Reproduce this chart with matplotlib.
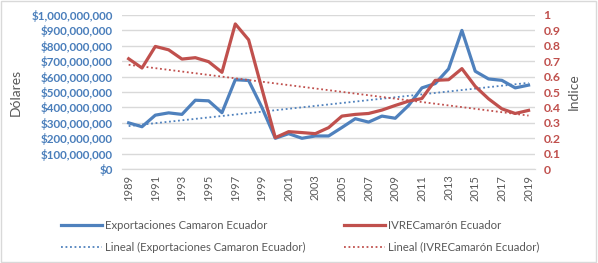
import matplotlib.pyplot as plt
import matplotlib.patches as patches
import matplotlib.ticker as mticker
import numpy as np

years = list(range(1989, 2020))
exportaciones = [300e6, 275e6, 350e6, 365e6, 355e6, 447e6, 443e6, 366e6, 580e6, 575e6,
                 400e6, 200e6, 230e6, 200e6, 215e6, 215e6, 270e6, 327e6, 305e6, 344e6,
                 330e6, 413e6, 527e6, 555e6, 650e6, 900e6, 635e6, 585e6, 576e6, 527e6,
                 545e6]
ivre = [0.716, 0.656, 0.796, 0.774, 0.714, 0.723, 0.697, 0.628, 0.942, 0.839,
        0.52, 0.204, 0.243, 0.237, 0.230, 0.269, 0.344, 0.355, 0.361, 0.383,
        0.413, 0.441, 0.458, 0.576, 0.580, 0.652, 0.537, 0.456, 0.391, 0.361,
        0.381]

BLUE = '#4F81BD'
RED = '#C0504D'
GRAY = '#595959'
FONT = 'Lato'

fig = plt.figure(figsize=(5.98, 2.63), dpi=100)
fig.patches.append(patches.Rectangle((0.002, 0.004), 0.995, 0.992, transform=fig.transFigure,
                                     fill=False, edgecolor='#D9D9D9', lw=1))

ax = fig.add_axes([0.204, 0.357, 0.691, 0.586])
ax2 = ax.twinx()

x = np.array(years)
# trend lines (linear fits)
pb = np.polyfit(x, exportaciones, 1)
pr = np.polyfit(x, ivre, 1)

l1, = ax.plot(x, exportaciones, color=BLUE, lw=2.3, zorder=3,
              label='Exportaciones Camaron Ecuador')
l3, = ax.plot(x, np.polyval(pb, x), color=BLUE, lw=1.3, ls=(0, (1, 1.5)), zorder=3,
              label='Lineal (Exportaciones Camaron Ecuador)')
l2, = ax2.plot(x, ivre, color=RED, lw=2.3, zorder=3, label='IVRECamarón Ecuador')
l4, = ax2.plot(x, np.polyval(pr, x), color=RED, lw=1.3, ls=(0, (1, 1.5)), zorder=3,
               label='Lineal (IVRECamarón Ecuador)')

ax.set_xlim(1988.5, 2019.5)
ax.set_ylim(0, 1e9)
ax2.set_ylim(0, 1)
ax.set_yticks(np.arange(0, 1.01e9, 1e8))
ax2.set_yticks(np.arange(0, 1.01, 0.1))
ax.yaxis.set_major_formatter(mticker.FuncFormatter(lambda v, p: f'${v:,.0f}'))
ax2.yaxis.set_major_formatter(mticker.FuncFormatter(lambda v, p: f'{v:g}'))
ax.set_xticks(years[::2])
ax.set_xticklabels([str(y) for y in years[::2]], rotation=90, fontsize=8,
                   color=GRAY, family=FONT)

ax.grid(axis='y', color='#D9D9D9', lw=1)
ax.set_axisbelow(True)
for a in (ax, ax2):
    for s in ('top', 'left', 'right'):
        a.spines[s].set_visible(False)
    a.spines['bottom'].set_color('#D9D9D9')
    a.tick_params(length=0)

for t in ax.get_yticklabels():
    t.set_color('#4A7EBB'); t.set_fontsize(8.4); t.set_fontweight('bold'); t.set_family(FONT)
for t in ax2.get_yticklabels():
    t.set_color(RED); t.set_fontsize(8.8); t.set_fontweight('bold'); t.set_family(FONT)
ax.tick_params(axis='y', pad=6.5)
ax2.tick_params(axis='y', pad=6)
ax.tick_params(axis='x', pad=4)

ax.set_ylabel('Dólares', color=GRAY, fontsize=10, family=FONT, labelpad=7)
ax2.set_ylabel('Indice', color=GRAY, fontsize=10, family=FONT, labelpad=5)

fig.legend(handles=[l1, l3, l2, l4], ncol=2, loc='lower left',
           bbox_to_anchor=(0.085, 0.0), frameon=False,
           prop={'family': FONT, 'size': 8.2}, labelcolor=GRAY,
           handlelength=3.6, handletextpad=0.3, columnspacing=3.3, labelspacing=0.95)

plt.savefig('out.png', dpi=100, facecolor='white')
